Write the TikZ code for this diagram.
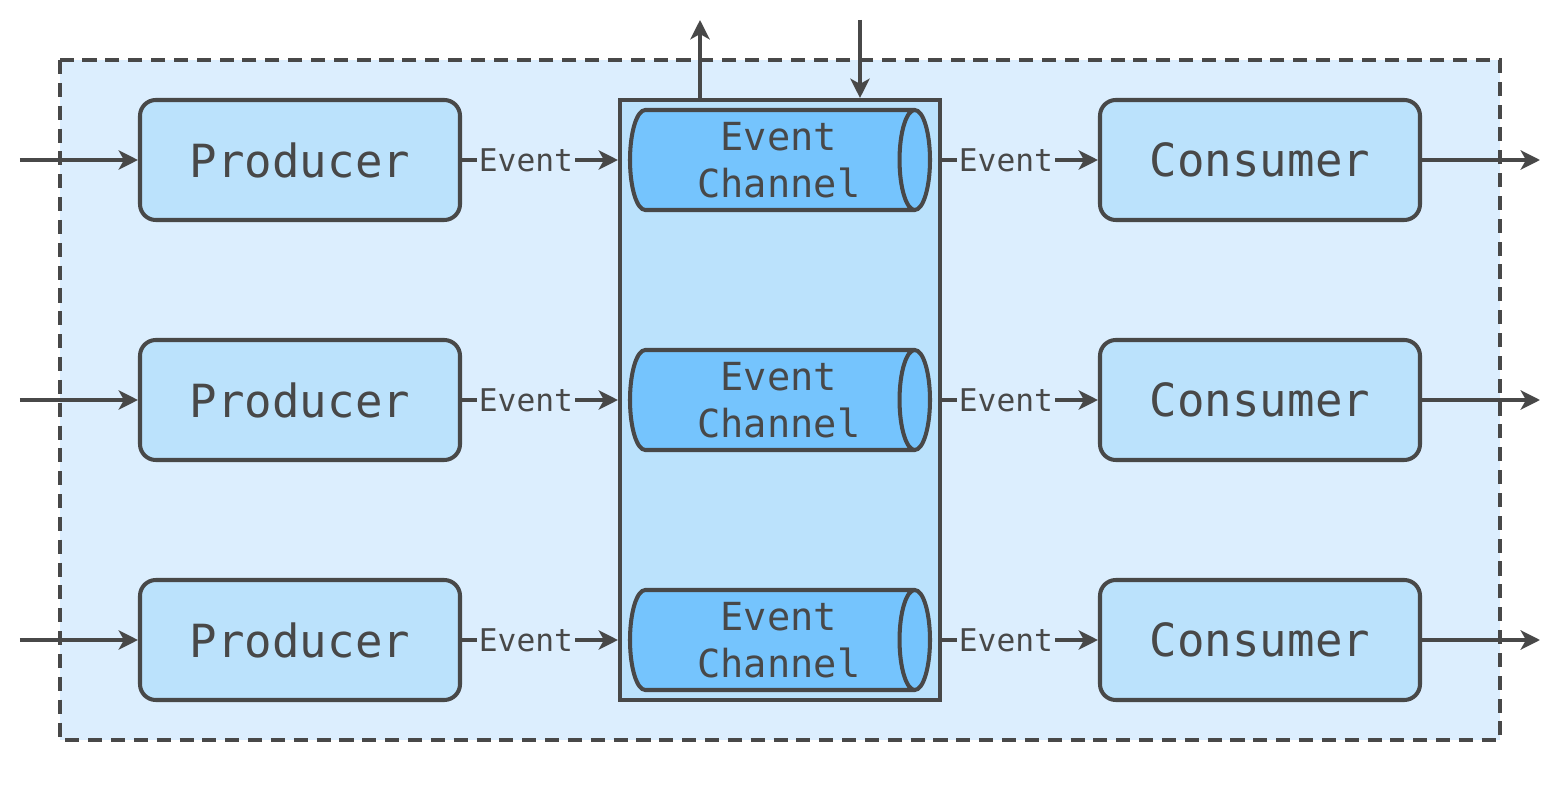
\documentclass[tikz,border=0pt]{standalone}
\usepackage{fontspec}
\setmonofont{DejaVu Sans Mono}
\usepackage{tikz}
\usetikzlibrary{arrows.meta,positioning,shapes.geometric}
\definecolor{ink}{HTML}{484848}
\definecolor{bgblue}{HTML}{DCEEFE}
\definecolor{boxblue}{HTML}{BBE2FC}
\definecolor{chanblue}{HTML}{75C4FD}
\newcommand{\chanpad}{\hspace*{0.3cm}}
\tikzset{
  blk/.style={draw=ink, rounded corners=9pt, line width=2.3pt, fill=boxblue, text=ink, minimum width=6.4cm, minimum height=2.4cm, font=\ttfamily\fontsize{26}{30}\selectfont},
  chan/.style={cylinder, draw=ink, line width=2.3pt, fill=chanblue, text=ink, aspect=0.4, minimum width=2cm, minimum height=6cm, inner sep=0pt, align=center, anchor=shape center, font=\ttfamily\fontsize{22}{27}\selectfont},
  ar/.style={-{Stealth[length=11pt, width=11pt, inset=3pt]}, line width=2.3pt, draw=ink},
  lbl/.style={font=\ttfamily\fontsize{17.8}{20}\selectfont, text=ink, fill=bgblue, inner sep=1pt, pos=0.41},
}

\begin{document}
\begin{tikzpicture}
    \useasboundingbox (0,0) rectangle (31.22,-16);
    % outer dashed area
    \draw[ink, line width=2.3pt, fill=bgblue, dash pattern=on 8pt off 5pt] (1.2,-1.2) rectangle (30,-14.8);
    % channel container
    \node[draw=ink, line width=2.3pt, fill=boxblue, minimum width=6.4cm, minimum height=12cm, inner sep=0pt] (bus) at (15.6,-8) {};

    \foreach \i/\y in {1/-3.2,2/-8,3/-12.8}{
      \node[blk] (prod\i) at (6,\y) {Producer};
      \node[chan] (chan\i) at (15.6,\y) {\chanpad Event\\\chanpad Channel};
      \node[blk] (cons\i) at (25.2,\y) {Consumer};
      \coordinate (in\i) at (0.4,\y);
      \coordinate (out\i) at (30.8,\y);
      \draw[ar] (in\i) -- (prod\i.west);
      \draw[ar] (prod\i.east) -- node[lbl] {Event} (bus.west |- prod\i);
      \draw[ar] (bus.east |- cons\i) -- node[lbl] {Event} (cons\i.west);
      \draw[ar] (cons\i.east) -- (out\i);
    }
    \coordinate (up) at (14,-0.4);
    \coordinate (down) at (17.2,-0.4);
    \draw[ar] (bus.north -| up) -- (up);
    \draw[ar] (down) -- (bus.north -| down);
  \end{tikzpicture}
\end{document}
